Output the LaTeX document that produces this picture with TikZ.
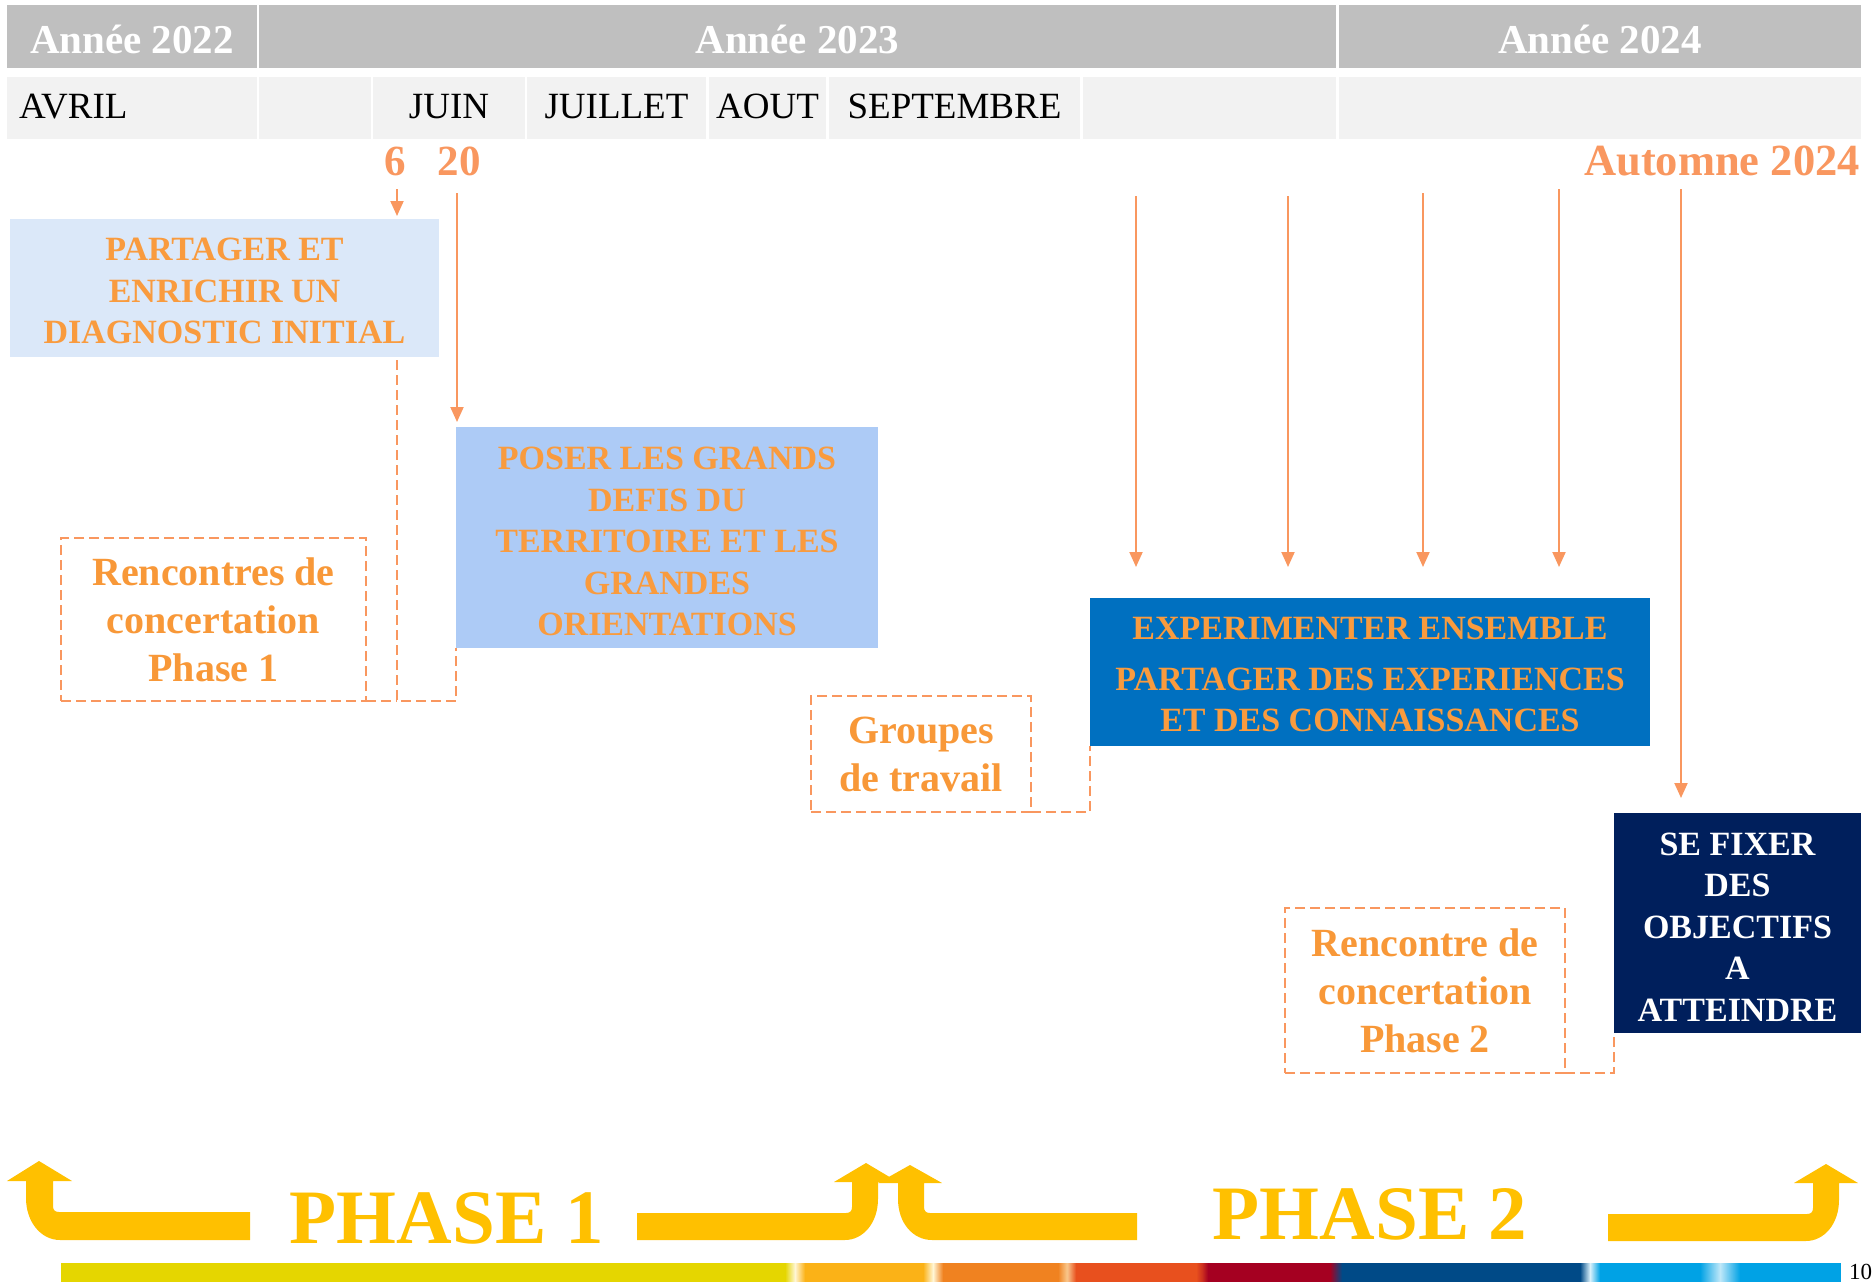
\documentclass[tikz,border=0pt]{standalone}
\usepackage{fontspec}
\setmainfont{Liberation Serif}
\usetikzlibrary{arrows.meta,calc}
\definecolor{hdr}{HTML}{BFBFBF}
\definecolor{mon}{HTML}{F2F2F2}
\definecolor{lnor}{HTML}{F9975F}
\definecolor{boxtxt}{HTML}{F99B3E}
\definecolor{dtxt}{HTML}{F89838}
\definecolor{bxa}{HTML}{DBE8F9}
\definecolor{bxb}{HTML}{ADCBF6}
\definecolor{bxc}{HTML}{0070C0}
\definecolor{bxd}{HTML}{001F5C}
\definecolor{phy}{HTML}{FFC000}
\definecolor{cbA}{HTML}{E5D600}
\definecolor{cbB}{HTML}{FBB217}
\definecolor{cbC}{HTML}{F08220}
\definecolor{cbD}{HTML}{E8501E}
\definecolor{cbE}{HTML}{A50021}
\definecolor{cbF}{HTML}{004A87}
\definecolor{cbG}{HTML}{00A2E5}
\definecolor{cream}{HTML}{FFF6D5}
\begin{document}
\begin{tikzpicture}[x=1pt,y=-1pt,
  yr/.style={fill=hdr,inner sep=0,outer sep=0,minimum height=63pt,text=white,text height=33pt,text depth=0pt,font=\fontsize{41}{49}\selectfont\bfseries},
  mc/.style={fill=mon,inner sep=0,outer sep=0,minimum height=62pt,text height=20pt,text depth=0pt,font=\fontsize{37}{44}\selectfont},
  boxfill/.style={inner sep=0,outer sep=0},
  box/.style={inner sep=0,outer sep=0,align=center,text=boxtxt,font=\fontsize{34}{41.5}\selectfont\bfseries},
  dbox/.style={draw=lnor,line width=2pt,dash pattern=on 10pt off 5pt,inner sep=0,outer sep=0,align=center,text=dtxt,font=\fontsize{40}{48}\selectfont\bfseries},
  arr/.style={draw=lnor,line width=2pt,-{Triangle[length=15pt,width=13pt]}},
  dcon/.style={draw=lnor,line width=2pt,dash pattern=on 10pt off 5pt},
  lbl/.style={inner sep=0,text=lnor,font=\fontsize{43}{50}\selectfont\bfseries},
  phs/.style={inner sep=0,text=phy,font=\fontsize{77}{90}\selectfont\bfseries},
  ph/.style={fill=phy}
]
\useasboundingbox (0,0) rectangle (1875,1282);
\fill[white] (0,0) rectangle (1875,1282);

% header row 1
\node[yr,minimum width=250pt]  (y22) at (132,36.5)   {Année 2022};
\node[yr,minimum width=1077pt] (y23) at (797.5,36.5) {Année 2023};
\node[yr,minimum width=522pt]  (y24) at (1600,36.5)  {Année 2024};

% header row 2
\node[mc,minimum width=250pt] (m1) at (132,108) {};
\node[inner sep=0,text height=20pt,text depth=0pt,font=\fontsize{37}{44}\selectfont,anchor=west] (avril) at (19,108) {AVRIL};
\node[mc,minimum width=112pt] (m2) at (315,108) {};
\node[mc,minimum width=152pt] (m3) at (449,108) {JUIN};
\node[mc,minimum width=179pt] (m4) at (616.5,108) {JUILLET};
\node[mc,minimum width=117pt] (m5) at (767.5,108) {AOUT};
\node[mc,minimum width=251pt] (m6) at (954.5,108) {SEPTEMBRE};
\node[mc,minimum width=253pt] (m7) at (1209.5,108) {};
\node[mc,minimum width=522pt] (m8) at (1600,108) {};

% date labels
\node[lbl] (d6)  at (395,161) {6};
\node[lbl] (d20) at (459,161) {20};
\node[lbl,anchor=east,font=\fontsize{44.5}{52}\selectfont\bfseries] (aut) at (1860,161) {Automne 2024};

% main boxes
\node[boxfill,fill=bxa,minimum width=429pt,minimum height=138pt] (b1) at (224.5,288) {};
\node[box] (b1t) at ([yshift=-3pt]b1.center) {PARTAGER ET\\ENRICHIR UN\\DIAGNOSTIC INITIAL};
\node[boxfill,fill=bxb,minimum width=422pt,minimum height=221pt] (b2) at (667,537.5) {};
\node[box] (b2t) at ([yshift=-4pt]b2.center) {POSER LES GRANDS\\DEFIS DU\\TERRITOIRE ET LES\\GRANDES\\ORIENTATIONS};
\node[boxfill,fill=bxc,minimum width=560pt,minimum height=148pt] (ex) at (1370,672) {};
\node[box] (ext) at ([yshift=-2.5pt]ex.center) {EXPERIMENTER ENSEMBLE\\[9pt]PARTAGER DES EXPERIENCES\\ET DES CONNAISSANCES};
\node[boxfill,fill=bxd,minimum width=247pt,minimum height=220pt] (fix) at (1737.5,923) {};
\node[box,text=white] (fixt) at ([yshift=-4pt]fix.center) {SE FIXER\\DES\\OBJECTIFS\\A\\ATTEINDRE};

% dashed boxes
\node[dbox,minimum width=305pt,minimum height=163pt] (rc1) at (213.5,619.5)
  {Rencontres de\\concertation\\Phase 1};
\node[dbox,minimum width=220pt,minimum height=116pt] (grp) at (921,754)
  {Groupes\\de travail};
\node[dbox,minimum width=280pt,minimum height=165pt] (rc2) at (1425,990.5)
  {Rencontre de\\concertation\\Phase 2};

% arrows
\coordinate (s6) at (397,189);
\coordinate (s20) at (457,193);
\draw[arr,shorten >=3pt] (s6) -- (s6 |- b1.north);
\draw[arr,shorten >=5pt] (s20) -- (s20 |- b2.north);
\coordinate (t1) at (1136,196); \coordinate (e1) at (1136,567);
\coordinate (t2) at (1288,196); \coordinate (e2) at (1288,567);
\coordinate (t3) at (1423,193); \coordinate (e3) at (1423,567);
\coordinate (t4) at (1559,189); \coordinate (e4) at (1559,567);
\coordinate (t5) at (1681,189);
\draw[arr] (t1) -- (e1);
\draw[arr] (t2) -- (e2);
\draw[arr] (t3) -- (e3);
\draw[arr] (t4) -- (e4);
\draw[arr,shorten >=15pt] (t5) -- (t5 |- fix.north);

% dashed connectors
\coordinate (j1) at (rc1.south -| s6);
\draw[dcon] ([yshift=-3pt]b1.south -| s6) -- (j1) -| (b2.south west);
\draw[dcon] (rc1.south east) -- (j1);
\draw[dcon] (grp.south east) -| (ex.south west);
\draw[dcon] (rc2.south east) -| (fix.south west);

% phase arrows
\fill[ph] (39,1161) -- (72,1181) -- (53,1181) -- (53,1206)
  .. controls (53,1210) and (55,1212) .. (59,1212) -- (250,1212) -- (250,1240) -- (60,1240)
  .. controls (41,1240) and (26,1222) .. (26,1198) -- (26,1181) -- (7,1181) -- cycle;
\fill[ph] (866,1163) -- (898,1182) -- (878,1182) -- (878,1199)
  .. controls (878,1223) and (863,1240) .. (845,1240) -- (637,1240) -- (637,1213) -- (846,1213)
  .. controls (850,1213) and (852,1211) .. (852,1207) -- (852,1182) -- (834,1182) -- cycle;
\fill[ph] (910,1165) -- (942,1183) -- (924,1183) -- (924,1207)
  .. controls (924,1211) and (926,1213) .. (930,1213) -- (1137,1213) -- (1137,1240) -- (932,1240)
  .. controls (913,1240) and (898,1223) .. (898,1199) -- (898,1183) -- (878,1183) -- cycle;
\fill[ph] (1826,1164) -- (1858,1183) -- (1839,1183) -- (1839,1200)
  .. controls (1839,1224) and (1824,1241) .. (1806,1241) -- (1608,1241) -- (1608,1214) -- (1807,1214)
  .. controls (1811,1214) and (1813,1212) .. (1813,1208) -- (1813,1183) -- (1794,1183) -- cycle;
\node[phs,anchor=base] (p1) at (447,1243) {PHASE 1};
\node[phs,anchor=base] (p2) at (1370,1239) {PHASE 2};

% colour bar
\fill[cbA] (61,1263) rectangle (795,1282);
\fill[cbB] (795,1263) rectangle (933,1282);
\fill[cbC] (933,1263) rectangle (1067,1282);
\fill[cbD] (1067,1263) rectangle (1202,1282);
\fill[cbE] (1202,1263) rectangle (1336,1282);
\fill[cbF] (1336,1263) rectangle (1590,1282);
\fill[cbG] (1590,1263) rectangle (1841,1282);
\shade[left color=cbA,right color=cbB,middle color=cream] (785,1263) rectangle (805,1282);
\shade[left color=cbB,right color=cbC,middle color=cream] (923,1263) rectangle (943,1282);
\shade[left color=cbC,right color=cbD,middle color=cream!60!cbC] (1058,1263) rectangle (1076,1282);
\shade[left color=cbD,right color=cbE,middle color=cbD!60!cbE] (1196,1263) rectangle (1208,1282);
\shade[left color=cbE,right color=cbF,middle color=cbE!50!cbF] (1330,1263) rectangle (1342,1282);
\shade[left color=cbF,right color=cbG,middle color=white!85!cbG] (1580,1263) rectangle (1600,1282);
\shade[left color=cbG,right color=cbG,middle color=white!75!cbG] (1700,1263) rectangle (1740,1282);

\node[inner sep=0,anchor=base west,font=\fontsize{23}{28}\selectfont] (pg) at (1849,1279) {10};
\end{tikzpicture}
\end{document}
